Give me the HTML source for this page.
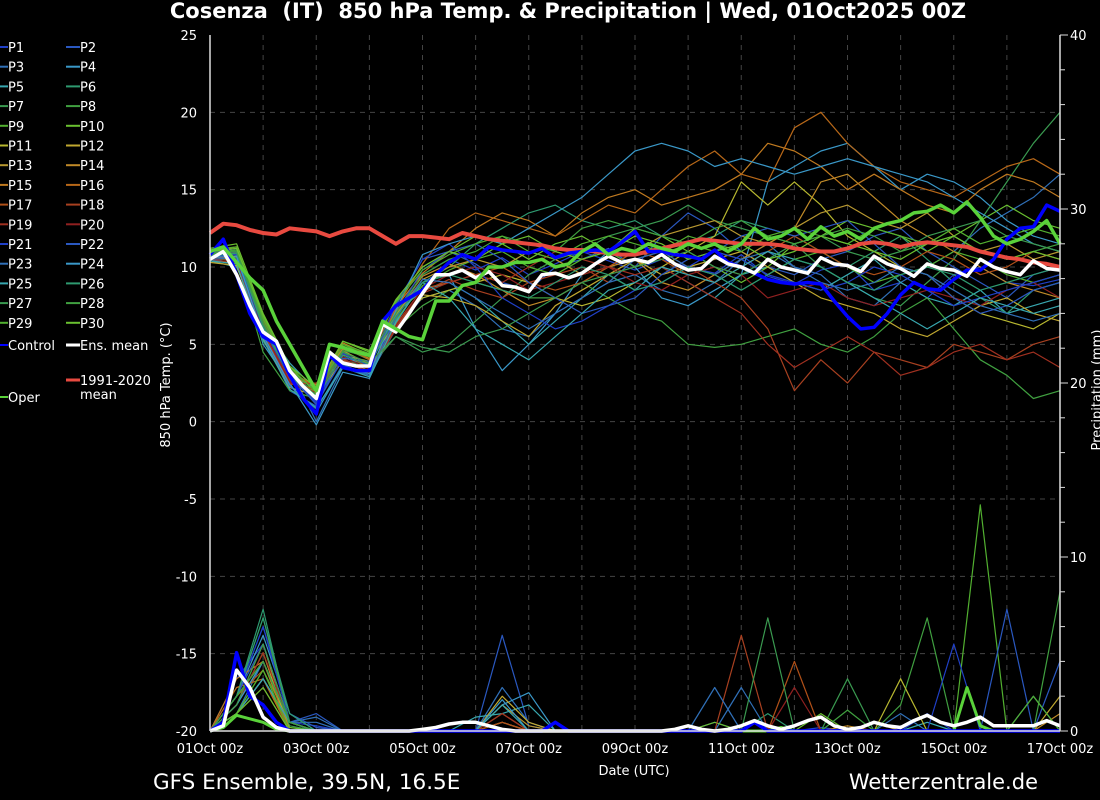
<!DOCTYPE html>
<html><head><meta charset="utf-8"><style>
html,body{margin:0;padding:0;background:#000;}
svg{display:block;font-family:"DejaVu Sans","Liberation Sans",sans-serif;}
</style></head><body>
<svg id="chart" width="1100" height="800" viewBox="0 0 1100 800">
<rect width="1100" height="800" fill="#000"/>
<text x="568" y="18" fill="#fff" font-size="21" font-weight="bold" text-anchor="middle" style="white-space:pre">Cosenza  (IT)  850 hPa Temp. &amp; Precipitation | Wed, 01Oct2025 00Z</text>
<g id="grid"></g>
<g id="series"></g>
<g id="axes"></g>
<g id="legend"></g>
<text x="170" y="385" fill="#fff" font-size="13" text-anchor="middle" transform="rotate(-90 170 385)">850 hPa Temp. (°C)</text>
<text x="1101" y="390" fill="#fff" font-size="13" text-anchor="middle" transform="rotate(-90 1101 390)">Precipitation (mm)</text>
<text x="634" y="775" fill="#fff" font-size="13" text-anchor="middle">Date (UTC)</text>
<text x="153" y="789" fill="#fff" font-size="21.5">GFS Ensemble, 39.5N, 16.5E</text>
<text x="1038" y="789" fill="#fff" font-size="21" text-anchor="end">Wetterzentrale.de</text>
</svg>
<script>
const xTickLabels=["01Oct 00z","03Oct 00z","05Oct 00z","07Oct 00z","09Oct 00z","11Oct 00z","13Oct 00z","15Oct 00z","17Oct 00z"];
const yTicks=[25,20,15,10,5,0,-5,-10,-15,-20];
const y2Ticks=[40,30,20,10,0];
const ensMean=[10.5,11.0,9.5,7.5,5.8,5.2,3.3,2.3,1.5,4.5,3.8,3.6,3.6,6.3,5.8,7.0,8.3,9.5,9.5,9.8,9.3,9.7,8.8,8.7,8.4,9.5,9.6,9.3,9.6,10.2,10.7,10.3,10.5,10.3,10.8,10.2,9.8,9.9,10.7,10.2,10.0,9.6,10.5,10.0,9.8,9.6,10.6,10.2,10.1,9.7,10.7,10.2,9.9,9.4,10.2,9.9,9.8,9.4,10.5,10.0,9.7,9.5,10.4,9.9,9.8];
const control=[10.8,11.8,9.5,7.0,5.5,5.0,3.0,1.5,0.5,4.3,3.5,3.3,3.3,6.5,7.5,8.0,8.5,9.5,10.3,10.8,10.5,11.3,11.1,11.0,10.9,11.2,10.6,10.9,11.0,11.1,11.0,11.6,12.3,11.0,11.0,10.8,10.7,10.5,11.1,10.3,10.0,9.6,9.2,9.0,8.9,9.0,8.9,7.8,6.8,6.0,6.1,7.0,8.2,9.0,8.6,8.5,9.2,9.8,9.8,10.5,11.8,12.5,12.6,14.0,13.6];
const oper=[11.0,11.3,10.3,9.3,8.5,6.5,5.0,3.5,2.0,5.0,4.8,4.5,4.3,6.5,6.0,5.5,5.3,7.8,7.8,8.8,9.0,10.0,10.0,10.3,10.3,10.5,10.0,10.2,11.0,11.5,10.8,11.2,11.0,11.5,11.2,11.0,11.5,11.2,11.5,11.0,11.5,12.5,11.8,12.0,12.5,11.8,12.6,12.0,12.3,11.8,12.5,12.8,13.0,13.5,13.6,14.0,13.5,14.2,13.2,12.0,11.5,11.8,12.3,13.0,11.5];
const climate=[12.2,12.8,12.7,12.4,12.2,12.1,12.5,12.4,12.3,12.0,12.3,12.5,12.5,12.0,11.5,12.0,12.0,11.9,11.8,12.2,12.0,11.8,11.7,11.6,11.5,11.4,11.2,11.1,11.1,11.0,10.9,10.8,10.8,11.0,11.2,11.4,11.6,11.8,11.7,11.6,11.5,11.5,11.5,11.4,11.2,11.1,11.0,11.0,11.2,11.5,11.6,11.5,11.3,11.5,11.6,11.5,11.4,11.3,11.0,10.8,10.6,10.5,10.3,10.2,10.0];
const precipMean=[0,0.3,3.5,2.5,0.8,0.2,0,0,0,0,0,0,0,0,0,0,0.1,0.2,0.4,0.5,0.5,0.3,0.1,0,0,0,0,0,0,0,0,0,0,0,0,0.1,0.3,0.1,0,0.1,0.3,0.6,0.3,0.1,0.3,0.6,0.8,0.3,0.1,0.2,0.5,0.3,0.2,0.6,0.9,0.5,0.3,0.5,0.8,0.3,0.3,0.3,0.3,0.6,0.3];
const precipControl=[0,0.5,4.5,2,1.5,0.5,0,0,0,0,0,0,0,0,0,0,0,0,0,0,0,0,0,0,0,0,0.5,0,0,0,0,0,0,0,0,0,0,0,0,0,0,0.5,0,0,0,0,0,0,0,0,0,0,0,0,0,0,0,0,0,0,0,0,0,0,0];
const precipOper=[0,0.2,0.9,0.7,0.5,0.1,0,0,0,0,0,0,0,0,0,0,0,0,0,0,0,0,0,0,0,0,0,0,0,0,0,0,0,0,0,0,0,0,0,0,0,0,0,0.2,0,0,0,0,0,0,0,0,0,0,0,0,0,2.5,0.3,0,0,0,0,0,0];
const members=[
[10.6,10.8,6.0,3.0,1.2,4.0,3.2,6.8,9.5,10.5,9.8,10.6,9.5,10.2,11.0,10.4,9.8,10.5,10.0,9.6,10.8,9.4,8.9,9.8,10.2,8.5,9.0,8.0,9.5,10.0,9.0,8.8,9.2],
[10.9,11.2,5.5,2.0,1.0,4.5,3.8,7.5,10.5,11.0,10.2,9.0,8.5,10.0,10.5,11.2,10.0,12.0,13.5,12.5,11.0,10.0,9.5,10.5,11.0,12.0,12.5,11.0,10.0,9.0,8.0,9.5,10.0],
[10.5,10.2,6.5,3.5,0.0,3.5,3.0,6.0,8.0,8.5,7.5,6.0,5.5,7.0,8.0,9.0,9.5,8.5,8.0,9.0,10.5,11.5,10.0,9.5,8.0,7.5,9.0,10.0,11.0,12.5,13.5,14.5,16.0],
[10.7,10.9,5.0,2.5,-0.2,3.2,2.8,6.5,9.0,9.5,6.0,3.3,5.0,7.0,9.5,11.0,10.0,8.0,7.5,8.5,9.5,15.5,16.5,17.5,18.0,16.5,15.0,16.0,15.5,14.5,13.0,12.0,11.5],
[10.4,10.0,6.2,3.8,2.0,4.2,3.6,7.0,8.5,9.0,8.0,6.5,5.0,6.5,8.0,9.5,8.5,10.0,9.0,8.0,9.5,10.0,9.0,8.5,9.5,10.5,9.0,8.0,7.5,8.5,7.0,7.5,8.0],
[10.8,11.0,6.0,3.2,1.8,4.8,4.0,7.2,9.0,10.0,11.5,12.5,13.5,14.0,13.0,12.5,13.0,12.0,11.5,12.0,13.0,12.5,12.0,11.0,10.0,11.0,12.0,10.5,9.0,8.0,7.0,8.5,9.0],
[11.0,10.6,5.2,2.8,1.6,4.0,3.5,5.5,4.5,5.0,6.5,8.0,9.5,10.5,11.0,12.0,12.5,13.0,14.0,13.0,12.5,12.0,11.5,10.0,9.0,8.0,7.5,9.0,10.5,13.0,15.5,18.0,20.0],
[10.6,10.4,4.5,2.0,1.5,4.5,3.4,6.0,7.5,8.5,9.0,8.5,8.0,8.0,9.0,8.0,7.0,6.5,5.0,4.8,5.0,5.5,6.0,5.0,4.5,5.5,7.0,8.0,6.0,4.0,3.0,1.5,2.0],
[10.9,11.1,6.8,3.4,1.4,5.0,4.2,6.6,8.8,9.8,10.5,11.0,10.0,9.5,10.5,11.0,10.0,10.8,11.5,11.0,10.5,9.5,10.5,11.0,10.0,9.0,9.5,10.0,11.0,10.5,9.5,9.0,9.5],
[11.2,11.5,7.0,3.6,1.8,5.2,4.5,7.8,10.0,11.0,12.0,11.5,10.5,11.5,12.0,11.0,12.5,12.0,11.0,10.0,9.0,10.0,11.5,12.0,13.0,12.5,12.0,11.0,12.0,13.0,14.0,13.0,12.5],
[10.5,10.7,5.8,2.6,1.9,4.3,3.9,6.4,8.0,8.5,9.0,9.5,9.0,8.0,7.5,8.0,9.0,10.0,11.0,12.0,15.5,14.0,15.5,14.0,12.0,11.0,10.0,9.5,8.0,7.0,6.5,6.0,7.0],
[10.3,10.1,5.4,2.2,1.7,3.9,3.3,6.2,8.2,8.0,7.5,6.5,5.5,7.5,8.5,9.5,10.5,9.5,10.0,10.5,11.0,10.0,9.0,8.0,7.5,7.0,6.0,5.5,6.5,7.5,8.0,7.0,6.5],
[10.7,10.8,6.3,3.1,2.1,4.6,3.7,6.9,9.2,10.0,10.5,10.0,11.0,10.5,9.5,10.0,11.0,12.0,12.5,13.0,12.0,11.5,12.5,13.5,14.0,13.0,12.5,13.5,12.0,11.0,11.5,10.5,11.0],
[10.8,10.9,6.1,2.9,2.4,4.7,4.1,7.1,9.4,10.2,9.5,8.5,7.5,8.0,9.0,10.0,10.5,9.0,8.5,9.5,10.5,11.5,12.5,15.5,16.0,14.5,13.0,12.0,11.0,10.0,9.0,8.5,8.0],
[11.0,11.3,6.6,3.3,2.2,5.1,4.3,7.4,9.6,11.0,12.5,13.5,13.0,12.0,13.5,14.5,15.0,14.0,14.5,15.0,16.0,18.0,17.5,16.5,15.0,16.0,15.0,14.0,13.5,15.0,16.0,15.5,14.5],
[10.9,11.0,6.4,3.2,2.3,4.9,4.0,7.3,10.2,12.5,13.5,13.0,12.5,12.0,13.0,14.0,13.5,15.0,16.5,17.5,16.0,15.5,19.0,20.0,18.0,16.5,15.5,15.0,14.5,15.5,16.5,17.0,16.0],
[10.6,10.6,5.9,2.7,2.0,4.4,3.5,6.3,8.6,9.0,9.5,10.0,9.0,8.5,9.0,10.0,11.0,10.5,9.5,9.0,10.0,11.0,12.0,11.0,10.0,9.5,10.0,11.0,10.5,9.5,10.0,11.0,10.5],
[10.4,10.3,5.6,2.4,2.5,4.0,3.1,6.1,8.4,9.2,8.5,8.0,9.0,9.5,10.0,9.0,10.5,11.0,10.0,9.0,8.0,6.0,2.0,4.0,2.5,4.5,4.0,3.5,5.0,4.5,4.0,5.0,5.5],
[10.5,10.4,5.7,2.5,1.9,4.1,3.2,6.0,8.3,9.0,9.5,9.0,10.0,11.0,10.5,10.0,9.5,10.0,9.0,8.0,7.0,5.0,3.5,4.5,5.5,4.5,3.0,3.5,4.5,5.0,4.0,4.5,3.5],
[10.6,10.5,5.9,2.6,1.6,4.2,3.4,6.2,8.6,9.5,10.0,9.5,8.5,9.0,9.5,10.0,9.0,8.5,9.5,10.0,9.5,8.0,8.5,9.0,8.0,7.5,8.0,8.5,8.0,7.5,8.5,9.0,8.0],
[10.7,10.8,6.0,2.9,1.3,4.4,3.6,7.6,10.5,11.5,10.0,8.0,7.0,6.0,6.5,7.5,8.5,9.0,10.0,11.0,10.5,9.5,9.0,8.5,9.0,10.0,9.5,8.5,7.5,8.0,8.5,9.0,9.5],
[10.8,10.9,6.2,3.0,1.1,4.1,3.9,7.0,9.8,11.0,11.5,10.5,9.0,8.0,7.0,7.5,8.0,9.5,10.5,11.0,12.0,12.5,12.0,12.5,13.0,11.5,10.0,9.5,8.0,7.0,7.5,8.5,9.0],
[10.5,10.6,5.5,2.3,0.8,3.7,3.0,6.7,9.2,9.0,8.0,7.0,6.0,7.0,8.0,9.0,10.5,11.0,10.0,9.5,10.5,11.0,10.0,9.0,8.5,9.0,10.0,9.5,8.5,7.5,7.0,6.5,7.0],
[10.6,10.7,5.6,2.4,0.6,3.6,3.1,7.2,10.8,11.5,12.0,11.5,12.5,13.5,14.5,16.0,17.5,18.0,17.5,16.5,17.0,16.5,16.0,16.5,17.0,16.5,16.0,15.5,14.5,13.5,12.5,11.5,11.0],
[10.4,10.2,5.3,2.1,0.9,3.5,2.9,6.4,9.0,8.0,6.0,5.0,4.0,5.5,7.0,8.5,9.0,10.0,9.5,9.0,10.0,11.0,10.5,10.0,9.0,8.0,7.0,6.0,7.0,8.0,7.5,7.0,7.5],
[10.7,10.9,6.1,3.0,1.5,4.3,3.7,6.8,9.0,9.5,9.0,8.5,8.0,9.0,10.0,9.5,8.5,9.0,10.0,9.5,8.5,9.5,10.5,10.0,9.0,8.5,9.5,10.0,9.5,8.5,9.0,9.5,10.0],
[10.9,11.0,6.3,3.1,1.7,4.5,3.8,5.5,4.8,4.5,5.5,6.0,7.0,8.0,9.0,9.5,10.0,10.5,11.0,10.0,9.5,10.5,11.5,12.0,11.0,10.5,11.0,12.0,12.5,13.0,12.0,11.5,11.0],
[10.8,11.1,6.5,3.3,2.0,4.6,4.2,7.0,9.5,10.5,11.0,12.0,11.5,11.0,12.5,13.0,12.5,12.0,11.5,12.5,13.0,12.0,11.5,12.0,12.5,12.0,11.0,11.5,12.0,11.0,10.5,11.0,11.5],
[11.1,11.3,6.7,3.5,1.9,5.0,4.4,7.7,9.8,10.8,11.5,12.0,11.0,10.5,11.5,12.0,11.5,11.0,12.0,11.5,11.0,12.0,12.5,12.0,11.5,12.5,12.0,11.5,12.5,11.5,12.0,12.5,12.0],
[11.0,11.2,6.9,3.6,2.2,5.2,4.6,7.9,10.0,11.0,10.5,11.5,12.0,11.0,10.5,11.0,12.0,11.5,10.5,11.0,11.5,10.5,11.0,12.0,11.5,11.0,10.5,11.5,12.0,11.0,10.5,11.0,10.5]
];
const memberPrecip=[
[0,3,5,0.5,0.3,0,0,0,0,0,0,0.5,0,0,0,0,0,0,0,0.5,0,0,0,0.2,0,0.5,0,1,0,0,0,0,0],
[0,2,6,1,0.2,0,0,0,0,0,0,5.5,0.3,0,0,0,0,0,0,0,0,0,0,0,0,0,0,0,0,0,0,0,0],
[0,1,4,0.5,0.5,0,0,0,0,0,0,2.5,0.5,0,0,0,0,0,0,0,2.5,0,0,0,0,0,1,0,0,0,0,0,0],
[0,2,5.5,1,0,0,0,0,0,0,0,1.5,2.2,0,0,0,0,0,0,0,0,0,0,0,0,0,0,0,0,0,0,2,0],
[0,1,3,0.5,0,0,0,0,0,0,0.8,1,1.5,0,0,0,0,0,0,0,0,0,0,0,0,0,0,0.5,0,0,0,0,0],
[0,2,7,0.5,0,0,0,0,0,0,0,0,0,0,0,0,0,0,0,0,0,1,0,0,0,0,0,0,0,0,0,0,0],
[0,1.5,4,0.3,0,0,0,0,0,0,0,0,0,0,0,0,0,0,0,0,0,0,0,0,3,0,0,0,0,0,0,0,0],
[0,2,6.5,0.5,0,0,0,0,0,0,0,0,0,0,0,0,0,0,0,0,0,0,0,0,0,0,1.5,6.5,0,0,0,0,0],
[0,1,3.5,0.5,0,0,0,0,0,0,0,0,0,0,0,0,0,0,0,0,0,0,0,0,0,0,0,0,0,13,0,0,0],
[0,1,3,0.2,0,0,0,0,0,0,0,0,0,0,0,0,0,0,0,0.5,0,0,0,1,0,0,0,0,0,0,0,0,0],
[0,1.5,4.5,0,0,0,0,0,0,0,0,0.5,0,0,0,0,0,0,0,0,0,0,0,0,0,0,3,0,0,0,0,0,0],
[0,1,3,0.5,0,0,0,0,0,0,0,2,0.5,0,0,0,0,0,0,0,0,0,0,0,0,0,0,0,0,0,0,0,2],
[0,1.5,5,0,0,0,0,0,0,0,0,1.5,0.3,0,0,0,0,0,0,0,0,0,0,0,0,0.5,0,0,0,0,0,0,0],
[0,2,4,0.5,0,0,0,0,0,0,0,1,0,0,0,0,0,0,0,0,0,0,0,0,0.3,0,0,0,0,0,0,0,1],
[0,3,4,0,0,0,0,0,0,0,0,0.5,0,0,0,0,0,0,0,0,0,0,0,0,0,0,0,0,0,0,0,0,0],
[0,2.5,3,0,0,0,0,0,0,0,0,0,0,0,0,0,0,0,0,0,0,0,0,0,0,0,0,0,0,0,0,0,0],
[0,2,3.5,0,0,0,0,0,0,0,0,0.5,0,0,0,0,0,0,0,0,0,0,4,0,0,0,0,0,0,0,0,0,0],
[0,1,3,0.5,0,0,0,0,0,0,0,0,0,0,0,0,0,0,0,0,5.5,0,0,0,0,0,0,0,0,0,0,0,0],
[0,1.5,4.5,0.5,0,0,0,0,0,0,0,1,0,0,0,0,0,0,0,0,0,0,0,0,0,0,0,0,0,0,0,0,0],
[0,1,2.5,0,0,0,0,0,0,0,0,0,0,0,0,0,0,0,0,0,0,0,2.5,0,0,0,0,0,0,0,0,0,0],
[0,2,6,0.5,0,0,0,0,0,0,0,0,0,0,0,0,0,0,0,0,0,0,0,0,0,0,0,0,5,0,0,0,0],
[0,2,5,0.5,1,0,0,0,0,0,0,0,0,0,0,0,0,0,0,0,0,0,0,0,0,0,0,0,0,0,7,0,4],
[0,1,3,0.5,0.8,0,0,0,0,0,0,0,0,0,0,0,0,0,0,2.5,0,0,0,0,0,0,0,0,0,0,0,0,0],
[0,1.5,4,0.5,0,0,0,0,0,0,0,1.8,0,0,0,0,0,0,0,0,0,0,0,0,0,0,0,0,0,0,0,0,0],
[0,1,3,0.5,0,0,0,0,0,0,0,1.5,0,0,0,0,0,0,0,0,0,0,0,0,0,0,0,0,0,0,0,0,0],
[0,2,6.5,1,0,0,0,0,0,0,0,0,0,0,0,0,0,0,0,0,0,0,0,0,0,0,0,0,0,0,0,0,0],
[0,1.5,5,0.5,0,0,0,0,0,0,0,0,0,0,0,0,0,0,0,0,0,6.5,0,0,0,0,0,0,0,0,0,0,0],
[0,2,4,0.5,0,0,0,0,0,0,0,0,0,0,0,0,0,0,0,0,0,0,0,0,1.2,0,0,0,0,0,0,0,8],
[0,1,3.5,0,0,0,0,0,0,0,0,0,0,0,0,0,0,0,0,0,0,0,0,0,0,0,0,0,0,0,0,2,0],
[0,1,2.5,0,0,0,0,0,0,0,0,0,0,0,0,0,0,0,0,0,0,0,0,0,0,0,0,0,0,0,0,0,0]
];
const memberColors=["#2040c8","#2a58c0","#3070b8","#3a98c8","#38a8b0","#2e9a70","#3a9a50","#40a040","#52b030","#6ac030","#b8b830","#c0a830","#b89830","#c08a28","#c07a20","#b86818","#b05018","#a84020","#a03020","#902020","#2040c8","#2a58c0","#3070b8","#3a98c8","#38a8b0","#2e9a70","#3a9a50","#40a040","#52b030","#6ac030"];

const X0=210,X1=1060,Y0=35,Y1=731;
const xScale=h=>X0+(X1-X0)*h/384;
const yScale=t=>Y0+(25-t)*(Y1-Y0)/45;
const y2Scale=p=>Y1-p*(Y1-Y0)/40;
const NS="http://www.w3.org/2000/svg";
function mk(tag,attrs,parent){const e=document.createElementNS(NS,tag);for(const k in attrs)e.setAttribute(k,attrs[k]);parent.appendChild(e);return e;}
const grid=document.getElementById('grid'),ser=document.getElementById('series'),axes=document.getElementById('axes'),leg=document.getElementById('legend');

for(let d=1;d<16;d++){const l=mk('line',{x1:xScale(d*24),x2:xScale(d*24),y1:Y0,y2:Y1,stroke:'#444',"stroke-dasharray":'5,5',"stroke-width":1},grid);

}
yTicks.forEach(t=>{if(t===25||t===-20)return;const l=mk('line',{x1:X0,x2:X1,y1:yScale(t),y2:yScale(t),stroke:'#444',"stroke-dasharray":'5,5',"stroke-width":1},grid);

});

function poly(vals,step,scale,color,w,name){
 const pts=vals.map((v,i)=>xScale(i*step).toFixed(1)+','+scale(v).toFixed(1)).join(' ');
 const p=mk('polyline',{points:pts,fill:'none',stroke:color,"stroke-width":w,"stroke-linejoin":'round'},ser);
 
 
}
members.forEach((m,i)=>poly(m,12,yScale,memberColors[i],1.2,'temp-line-p'+(i+1)));
memberPrecip.forEach((m,i)=>poly(m,12,y2Scale,memberColors[i],1.2,'precip-line-p'+(i+1)));
poly(climate,6,yScale,'#e84a40',4,'climate-mean-line');
poly(precipOper,6,y2Scale,'#5ad23a',3,'precip-line-oper');
poly(precipControl,6,y2Scale,'#0000ff',3.5,'precip-line-control');
poly(precipMean,6,y2Scale,'#ffffff',3.5,'precip-line-ens-mean');
poly(control,6,yScale,'#0000ff',3.5,'temp-line-control');
poly(ensMean,6,yScale,'#ffffff',3.5,'temp-line-ens-mean');
poly(oper,6,yScale,'#5ad23a',3.5,'temp-line-oper');

let a=mk('line',{x1:X0,x2:X0,y1:Y0,y2:Y1,stroke:'#ddd',"stroke-width":1.5},axes);


a=mk('line',{x1:X1,x2:X1,y1:Y0,y2:Y1,stroke:'#ddd',"stroke-width":1.5},axes);


a=mk('line',{x1:X0,x2:X1,y1:Y1,y2:Y1,stroke:'#ddd',"stroke-width":1.5},axes);


yTicks.forEach(t=>{const e=mk('text',{x:197,y:yScale(t)+5,fill:'#fff',"font-size":13,"text-anchor":'end'},axes);e.textContent=t;

});
for(let p=0;p<=40;p+=2){const tk=mk('line',{x1:X1,x2:X1+(p%10===0?8:5),y1:y2Scale(p),y2:y2Scale(p),stroke:'#ddd',"stroke-width":1},axes);

}
y2Ticks.forEach(p=>{const e=mk('text',{x:1070,y:y2Scale(p)+5,fill:'#fff',"font-size":13},axes);e.textContent=p;

});
xTickLabels.forEach((s,i)=>{const e=mk('text',{x:xScale(i*48),y:753,fill:'#fff',"font-size":13,"text-anchor":'middle'},axes);e.textContent=s;

});

function legItem(x,y,color,label,w){
 const g=mk('g',{},leg);
 
 
 mk('line',{x1:x,x2:x+(x<10?8:14),y1:y,y2:y,stroke:color,"stroke-width":w},g);
 const t=mk('text',{x:x+(x<10?8:14),y:y+5,fill:'#fff',"font-size":13},g);t.textContent=label;
 return t;
}
for(let i=0;i<30;i++){const col=i%2,row=Math.floor(i/2);legItem(col?66:0,47+row*19.7,memberColors[i],'P'+(i+1),2);}
legItem(0,345,'#0000ff','Control',2);
legItem(66,345,'#ffffff','Ens. mean',3);
legItem(66,380,'#e84a40','1991-2020',3);
let t2=mk('text',{x:80,y:399,fill:'#fff',"font-size":13},leg);t2.textContent='mean';


legItem(0,397,'#5ad23a','Oper',2);
</script>
</body></html>
